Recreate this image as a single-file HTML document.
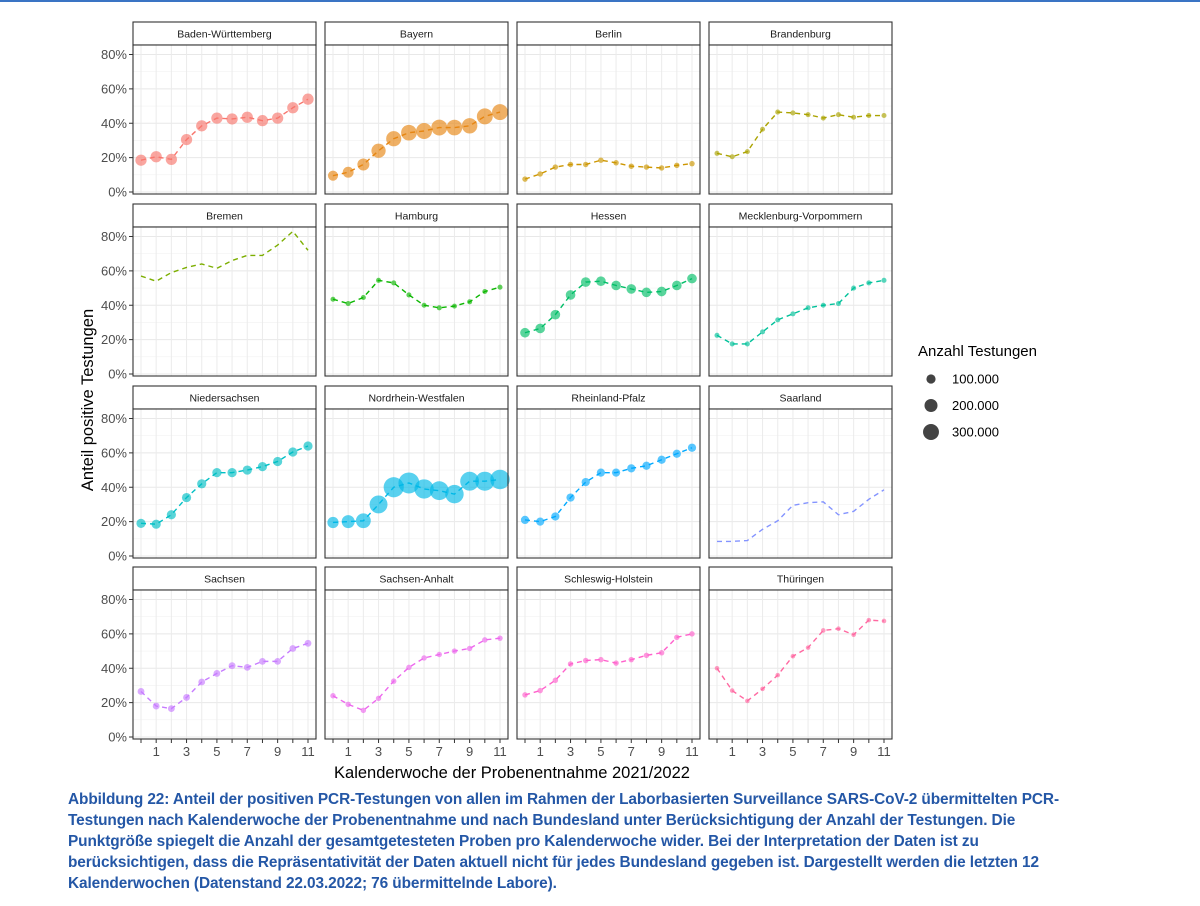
<!DOCTYPE html>
<html><head><meta charset="utf-8">
<style>
body{margin:0;background:#fff;width:1200px;height:906px;overflow:hidden;font-family:"Liberation Sans",sans-serif;}
#topline{position:absolute;left:0;top:0;width:1200px;height:2px;background:#3a74c4;}
#caption{position:absolute;left:68px;top:790px;width:1010px;font-size:15.4px;line-height:20.9px;font-weight:bold;color:#2457a6;letter-spacing:-0.1px;}
</style></head><body>
<div id="topline"></div>
<svg id="chart" width="1200" height="790" style="position:absolute;left:0;top:0"></svg>
<div id="caption">Abbildung 22: Anteil der positiven PCR-Testungen von allen im Rahmen der Laborbasierten Surveillance SARS-CoV-2 übermittelten PCR-Testungen nach Kalenderwoche der Probenentnahme und nach Bundesland unter Berücksichtigung der Anzahl der Testungen. Die Punktgröße spiegelt die Anzahl der gesamtgetesteten Proben pro Kalenderwoche wider. Bei der Interpretation der Daten ist zu berücksichtigen, dass die Repräsentativität der Daten aktuell nicht für jedes Bundesland gegeben ist. Dargestellt werden die letzten 12 Kalenderwochen (Datenstand 22.03.2022; 76 übermittelnde Labore).</div>
<script>
const states=["Baden-Württemberg","Bayern","Berlin","Brandenburg","Bremen","Hamburg","Hessen","Mecklenburg-Vorpommern","Niedersachsen","Nordrhein-Westfalen","Rheinland-Pfalz","Saarland","Sachsen","Sachsen-Anhalt","Schleswig-Holstein","Thüringen"];
const colors=["#F8766D","#E68613","#CD9600","#ABA300","#7CAE00","#0CB702","#00BE67","#00C19A","#00BFC4","#00B8E7","#00A9FF","#8494FF","#C77CFF","#ED68ED","#FF61CC","#FF68A1"];
const weekLabels=["","1","","3","","5","","7","","9","","11"];
const yTicks=[0,20,40,60,80];
const bw=[18.5,20.5,19,30.5,38.5,43,42.5,43.5,41.5,43,49,54];
const by=[9.5,11.5,16,24,31,34.5,35.5,37.5,37.5,38.5,44,46.5];
const be=[7.5,10.5,14.5,16,16,18.5,17,15,14.5,14,15.5,16.5];
const bb=[22.5,20.5,23.5,36.5,46.5,46,45,43,45,43.5,44.5,44.5];
const hb=[57,54,59,62,64,61.5,66,69,69,75,83,72];
const hh=[43.5,41,44.5,54.5,53,46,40,38.5,39.5,42,48,50.5];
const he=[24,26.5,34.5,46,53.5,54,51.5,49.5,47.5,48,51.5,55.5];
const mv=[22.5,17.5,17.5,24.5,31.5,35,38.5,40,41,50,53,54.5];
const ni=[19,18.5,24,34,42,48.5,48.5,50,52,55,60.5,64];
const nw=[19.5,20,20.5,30,40,42.5,39,38,36,43.5,43.5,44.5];
const rp=[21,20,23,34,43,48.5,48.5,51,52.5,56,59.5,63];
const sl=[8.5,8.5,9,15.5,20.5,29.5,31,31.5,24,26,33,38.5];
const sn=[26.5,18,16.5,23,32,37,41.5,40.5,44,44,51.5,54.5];
const st=[24,19,15.5,22.5,32.5,40.5,46,48,50,51.5,56.5,57.5];
const sh=[24.5,27,33,42.5,44.5,45,43,45,47.5,49,58,60];
const th=[40,27,21,28,36,47,52,62,63,59.5,68,67.5];
const series=[bw,by,be,bb,hb,hh,he,mv,ni,nw,rp,sl,sn,st,sh,th];
const tests=[150,230,35,30,0,30,110,30,100,420,80,0,55,35,35,25];
const legendVals=[100,200,300];
const legendLabels=["100.000","200.000","300.000"];
const NS="http://www.w3.org/2000/svg";
const svg=document.getElementById('chart');
function mk(t,a,p){const e=document.createElementNS(NS,t);for(const k in a)e.setAttribute(k,a[k]);(p||svg).appendChild(e);return e;}
function rad(k){return k<=0?0:Math.sqrt(k/100)*4.6;}
const colX=[133,325,517,709],rowY=[22,204,386,567],PW=183,SH=23,PH=149;
for(let s=0;s<16;s++){
  const r=Math.floor(s/4),c=s%4;
  const L=colX[c],T=rowY[r]+SH;
  const xs=i=>L+8+i*(167/11);
  const ys=v=>T+147-v*(137.5/80);
  const g=mk('g',{});
  
  
  const strip=mk('rect',{x:L,y:rowY[r],width:PW,height:SH,fill:'#fff',stroke:'#333','stroke-width':1.1},g);
  
  const stt=mk('text',{x:L+PW/2,y:rowY[r]+15.5,'text-anchor':'middle','font-size':10.5,fill:'#1a1a1a'},g);
  stt.textContent=states[s];
  
  mk('rect',{x:L,y:T,width:PW,height:PH,fill:'#fff'},g);
  for(let v=10;v<=80;v+=20)mk('line',{x1:L,x2:L+PW,y1:ys(v),y2:ys(v),stroke:'#f2f2f2','stroke-width':0.7},g);
  yTicks.forEach(v=>mk('line',{x1:L,x2:L+PW,y1:ys(v),y2:ys(v),stroke:'#e8e8e8','stroke-width':1.1},g));
  weekLabels.forEach((w,i)=>mk('line',{x1:xs(i),x2:xs(i),y1:T,y2:T+PH,stroke:'#ebebeb','stroke-width':1},g));
  const d=series[s];
  let pts=d.map((v,i)=>xs(i)+','+ys(v)).join(' ');
  const ln=mk('polyline',{points:pts,fill:'none',stroke:colors[s],'stroke-width':1.4,'stroke-dasharray':'5,4'},g);
  
  if(tests[s]>0)d.forEach((v,i)=>{
    let k=tests[s];
    if(s===9)k=[150,200,260,380,480,520,440,420,400,420,430,450][i];
    if(s===1)k=[120,140,170,240,270,290,300,300,290,280,300,300][i];
    const p=mk('circle',{cx:xs(i),cy:ys(v),r:rad(k),fill:colors[s],'fill-opacity':0.65},g);
    
  });
  mk('rect',{x:L,y:T,width:PW,height:PH,fill:'none',stroke:'#333','stroke-width':1.1},g);
  if(c===0)yTicks.forEach(v=>{
    mk('line',{x1:L-4,x2:L,y1:ys(v),y2:ys(v),stroke:'#333'},g);
    const t=mk('text',{x:L-6,y:ys(v)+4.5,'text-anchor':'end','font-size':13,fill:'#4d4d4d'},g);
    t.textContent=v+'%';
    
  });
  if(r===3)weekLabels.forEach((w,i)=>{
    mk('line',{x1:xs(i),x2:xs(i),y1:T+PH,y2:T+PH+4,stroke:'#333'},g);
    const t=mk('text',{x:xs(i),y:T+PH+17,'text-anchor':'middle','font-size':13,fill:'#4d4d4d'},g);
    t.textContent=w;
    
  });
}
const yt=mk('text',{x:0,y:0,transform:'translate(93,400) rotate(-90)','text-anchor':'middle','font-size':16.5,fill:'#000'});
yt.textContent='Anteil positive Testungen';

const xt=mk('text',{x:512,y:778,'text-anchor':'middle','font-size':16.5,fill:'#000'});
xt.textContent='Kalenderwoche der Probenentnahme 2021/2022';

const lg=mk('g',{});

const lt=mk('text',{x:918,y:356,'font-size':15,fill:'#000'},lg);
lt.textContent='Anzahl Testungen';

legendVals.forEach((v,i)=>{
  const cy=379+i*26.5;
  const c=mk('circle',{cx:931,cy:cy,r:rad(v),fill:'#222','fill-opacity':0.85},lg);
  
  const t=mk('text',{x:952,y:cy+4.5,'font-size':13,fill:'#000'},lg);
  t.textContent=legendLabels[i];
  
});
</script>
</body></html>
